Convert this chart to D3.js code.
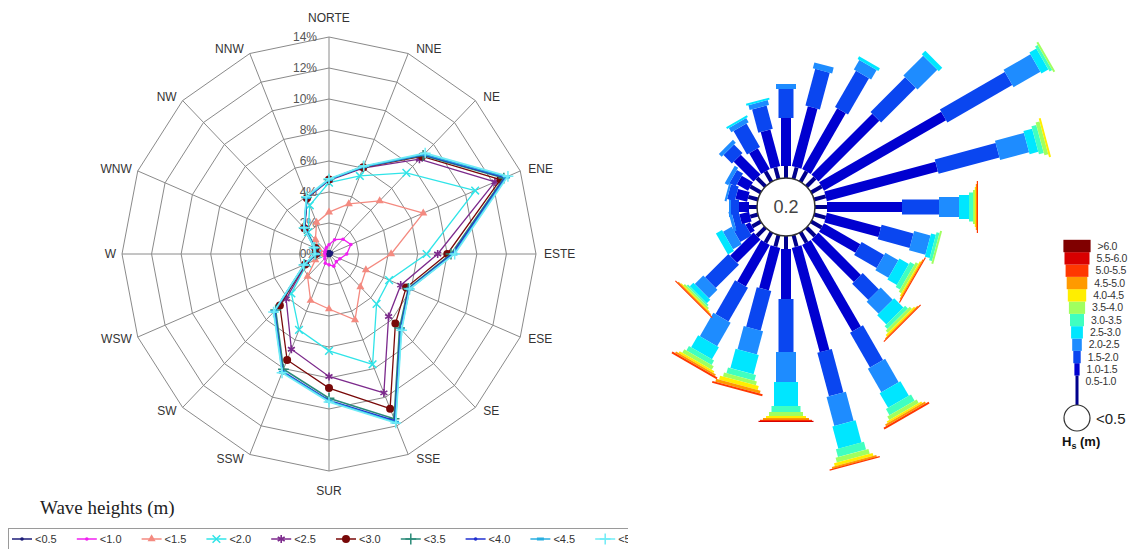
<!DOCTYPE html>
<html><head><meta charset="utf-8">
<script src="https://cdn.jsdelivr.net/npm/d3@7"></script>
<style>body{margin:0;background:#fff}svg{display:block}text{font-family:"Liberation Sans",Arial,sans-serif}</style>
</head><body><svg id="c" width="1138" height="549"></svg>
<script>
// ---------------- data ----------------
const directions = ["NORTE","NNE","NE","ENE","ESTE","ESE","SE","SSE","SUR","SSW","SW","WSW","W","WNW","NW","NNW"];
const radarTicks = [0,2,4,6,8,10,12,14];
const seriesNames = ["<0.5","<1.0","<1.5","<2.0","<2.5","<3.0","<3.5","<4.0","<4.5","<5.0"];
const s05 = [0.15,0.15,0.15,0.2,0.15,0.1,0.1,0.1,0.1,0.1,0.1,0.1,0.1,0.1,0.1,0.15];
const s10 = [0.6,1.0,1.35,1.6,1.2,0.8,0.7,0.85,0.7,0.65,0.4,0.3,0.3,0.3,0.35,0.45];
const s15 = [2.7,3.5,4.85,6.9,4.2,2.7,3.0,4.6,3.55,3.25,2.05,1.0,0.6,0.7,1.3,2.2];
const s20 = [4.6,5.45,7.4,10.7,6.6,4.4,4.55,7.7,6.25,5.3,3.6,1.6,0.8,1.0,2.0,3.4];
const s25 = [4.75,6.0,8.65,12.15,7.35,5.25,5.7,9.7,7.9,6.65,4.1,1.7,0.85,1.0,2.3,3.9];
const s30 = [4.8,6.05,8.9,12.55,8.0,5.65,6.35,10.8,8.65,7.4,4.7,1.75,0.9,1.0,2.35,3.9];
const s35 = [4.8,6.1,9.0,12.8,8.25,5.8,6.75,11.5,9.3,8.05,5.1,1.8,0.9,1.05,2.35,3.95];
const s40 = [4.8,6.1,9.05,12.9,8.35,5.85,6.85,11.65,9.45,8.2,5.2,1.8,0.9,1.05,2.35,3.95];
const s45 = [4.8,6.1,9.1,13.0,8.45,5.9,6.9,11.75,9.5,8.25,5.25,1.8,0.9,1.05,2.4,3.95];
const s50 = [4.85,6.15,9.2,13.1,8.5,5.9,6.95,11.8,9.55,8.3,5.3,1.85,0.95,1.1,2.4,4.0];
const seriesValues = [s05,s10,s15,s20,s25,s30,s35,s40,s45,s50];

// wave rose: 24 directions (deg from north), cumulative frequency (%) at the end of each Hs class
const roseAngles = [0,15,30,45,60,75,90,105,120,135,150,165,180,195,210,225,240,255,270,285,300,315,330,345];
const roseCum = [
  [0.6,3.0,4.45,4.7],
  [0.6,3.7,5.6,5.9],
  [0.6,4.1,6.2,6.75,6.9],
  [0.6,4.9,7.35,8.75,9.0],
  [0.6,7.65,11.4,12.95,13.35,13.5,13.6],
  [0.6,6.35,9.5,11.0,11.45,11.7,11.9,12.0],
  [0.6,4.35,6.2,7.2,7.7,7.9,8.0,8.05,8.1,8.15],
  [0.6,3.4,5.05,5.9,6.15,6.3,6.4],
  [0.6,2.7,4.0,4.75,5.3,5.55,5.7,5.78,5.83,5.88],
  [0.6,3.6,4.75,5.6,6.25,6.45,6.6,6.7,6.75,6.8],
  [0.6,5.6,7.6,8.95,9.8,10.15,10.35,10.45,10.55,10.65],
  [0.6,6.0,8.25,9.75,10.9,11.3,11.55,11.7,11.8,11.85],
  [0.65,3.15,5.8,7.3,8.5,8.8,9.0,9.1,9.2,9.25,9.3],
  [0.6,2.8,4.85,6.05,7.05,7.35,7.55,7.75,7.9,8.0],
  [0.6,3.0,4.95,6.3,7.0,7.25,7.45,7.55,7.65,7.75],
  [0.6,2.25,3.9,4.5,4.75,4.85,4.95,5.0,5.05,5.1],
  [0.5,0.75,1.4,1.9,2.25],
  [0.4,0.9,1.25,1.4],
  [0.4,0.9,1.3,1.4],
  [0.5,1.1,1.5,1.6],
  [0.6,1.25,1.6,1.8],
  [0.6,2.0,2.6,2.8],
  [0.6,1.8,3.15,3.4,3.5],
  [0.6,2.5,3.7,3.95,4.05]
];
const hsClasses = ["0.5-1.0","1.0-1.5","1.5-2.0","2.0-2.5","2.5-3.0","3.0-3.5","3.5-4.0","4.0-4.5","4.5-5.0","5.0-5.5","5.5-6.0",">6.0"];
const calmLabel = "<0.5";
const calmValue = "0.2";

// ---------------- styles ----------------
const seriesColors = ["#1c1c78","#f020f0","#f48a80","#30e4e8","#7c2a8c","#780808","#2a8a78","#2030d0","#28aee0","#70ecf6"];
const seriesMarkers = ["dot","dot","tri","times","star","circle","plus","dot","dash","plus"];
const classColors = ["#00008c","#0000d0","#0a46f0","#1e8cff","#00e6ff","#40ffc0","#a0ff60","#ffee00","#ff9a00","#ff3800","#d80000","#800000"];
const classWidths = [4,10,15,20,24,29,34,40,46,52,55,56];

const svg = d3.select("#c");
svg.append("rect").attr("width",1138).attr("height",549).attr("fill","#fff");

// ---------------- radar ----------------
const cx = 329, cy = 254;
const rX = d3.scaleLinear().domain([0,14]).range([0,207]);
const rY = d3.scaleLinear().domain([0,14]).range([0,217]);
const angle = d3.scaleLinear().domain([0,directions.length]).range([0,2*Math.PI]);
const pt = (v,i) => [cx + rX(v)*Math.sin(angle(i)), cy - rY(v)*Math.cos(angle(i))];
const closed = d3.line().curve(d3.curveLinearClosed);

const grid = svg.append("g").attr("stroke","#8a8a8a").attr("fill","none").attr("stroke-width",1);
radarTicks.slice(1).forEach(t => {
  grid.append("path").attr("d", closed(directions.map((d,i)=>pt(t,i))));
});
directions.forEach((d,i)=>{
  const [x,y] = pt(14,i);
  grid.append("line").attr("x1",cx).attr("y1",cy).attr("x2",x).attr("y2",y);
});
radarTicks.forEach(t=>{
  svg.append("text").attr("x",cx-12).attr("y",cy-rY(t)).attr("dy","0.35em")
    .attr("text-anchor","end").attr("font-size",12).attr("fill","#555").text(t+"%");
});
directions.forEach((d,i)=>{
  const a = angle(i), s = Math.sin(a), c = Math.cos(a);
  const [vx,vy] = pt(14,i);
  let x = vx, y = vy, anchor = "middle";
  if (s > 0.01) { anchor = "start"; x = vx + 8; y = vy - 5*c; }
  else if (s < -0.01) { anchor = "end"; x = vx - 6; y = vy - 5*c; }
  else { y = c > 0 ? vy - 19 : vy + 20; }
  svg.append("text").attr("x",x).attr("y",y).attr("dy","0.35em").attr("text-anchor",anchor)
    .attr("font-size",12).attr("fill","#333").text(d);
});

function marker(g, type, x, y, color){
  if(type==="dot"){ g.append("circle").attr("cx",x).attr("cy",y).attr("r",1.8).attr("fill",color); }
  else if(type==="circle"){ g.append("circle").attr("cx",x).attr("cy",y).attr("r",4).attr("fill",color); }
  else if(type==="tri"){ g.append("path").attr("transform",`translate(${x},${y})`).attr("d",d3.symbol(d3.symbolTriangle,28)()).attr("fill",color); }
  else if(type==="times"){ g.append("path").attr("transform",`translate(${x},${y})`).attr("d",d3.symbol(d3.symbolTimes,40)()).attr("fill","none").attr("stroke",color).attr("stroke-width",1.5); }
  else if(type==="star"){ g.append("path").attr("transform",`translate(${x},${y})`).attr("d",d3.symbol(d3.symbolAsterisk,45)()).attr("fill","none").attr("stroke",color).attr("stroke-width",1.6); }
  else if(type==="plus"){ g.append("path").attr("transform",`translate(${x},${y})`).attr("d",d3.symbol(d3.symbolPlus,40)()).attr("fill","none").attr("stroke",color).attr("stroke-width",1.5); }
  else if(type==="dash"){ g.append("path").attr("transform",`translate(${x},${y})`).attr("d","M-3.5,0H3.5").attr("stroke",color).attr("stroke-width",3); }
}

const series = svg.append("g");
seriesValues.forEach((vals,si)=>{
  const g = series.append("g");
  const pts = vals.map((v,i)=>pt(v,i));
  g.append("path").attr("d",closed(pts)).attr("fill","none").attr("stroke",seriesColors[si]).attr("stroke-width", si>=6?1.6:1.3);
  pts.forEach(p=>marker(g, seriesMarkers[si], p[0], p[1], seriesColors[si]));
});

svg.append("text").attr("x",40).attr("y",514).attr("font-size",19)
  .style("font-family","'Liberation Serif','DejaVu Serif',serif").attr("fill","#222").text("Wave heights (m)");

// legend
svg.append("clipPath").attr("id","lgclip").append("rect").attr("x",0).attr("y",520).attr("width",628).attr("height",40);
const lg = svg.append("g").attr("clip-path","url(#lgclip)");
lg.append("rect").attr("x",8.5).attr("y",528.5).attr("width",622).attr("height",30).attr("fill","none").attr("stroke","#9a9a9a");
seriesNames.forEach((n,i)=>{
  const x0 = 12 + i*64.8, y0 = 539;
  lg.append("line").attr("x1",x0).attr("x2",x0+20).attr("y1",y0).attr("y2",y0).attr("stroke",seriesColors[i]).attr("stroke-width",1.5);
  marker(lg, seriesMarkers[i], x0+10, y0, seriesColors[i]);
  lg.append("text").attr("x",x0+23).attr("y",y0).attr("dy","0.35em").attr("font-size",11).attr("fill","#333").text(n);
});

// ---------------- wave rose ----------------
const rc = [786,207];
const rR = d3.scaleLinear().domain([0,14]).range([29,309]);
const rose = svg.append("g").attr("transform",`translate(${rc[0]},${rc[1]})`);
roseAngles.forEach((a,di)=>{
  const g = rose.append("g").attr("transform",`rotate(${a})`);
  const cum = roseCum[di];
  cum.forEach((v,k)=>{
    const r0 = k===0 ? rR(0) : rR(cum[k-1]);
    const r1 = rR(v);
    g.append("rect").attr("x",-classWidths[k]/2).attr("y",-r1).attr("width",classWidths[k])
      .attr("height",Math.max(r1-r0,1.2)).attr("fill",classColors[k]);
  });
});
rose.append("circle").attr("r",29).attr("fill","#fff").attr("stroke","#333").attr("stroke-width",1.5);
rose.append("text").attr("text-anchor","middle").attr("dy","0.35em").attr("font-size",18).attr("fill","#444").text(calmValue);

// colour legend
const lgx = 1077;
const rowY = d3.scaleLinear().domain([hsClasses.length-1, 0]).range([246, 381.7]);
hsClasses.forEach((c,k)=>{
  const y = rowY(k);
  const w = 3 + k*2.2;
  const top = y - 6.2, bottom = k===0 ? 405 : y + 6.2;
  svg.append("rect").attr("x",lgx-w/2).attr("y",top).attr("width",w).attr("height",bottom-top).attr("fill",classColors[k]);
});
hsClasses.forEach((c,k)=>{
  const y = rowY(k);
  const w = 3 + k*2.2;
  svg.append("text").attr("x",lgx+w/2+7).attr("y",y).attr("dy","0.36em").attr("font-size",10.5)
    .attr("letter-spacing",-0.3).attr("fill","#333").text(c);
});
svg.append("circle").attr("cx",lgx).attr("cy",418).attr("r",13).attr("fill","#fff").attr("stroke","#333").attr("stroke-width",1.2);
svg.append("text").attr("x",1096).attr("y",418).attr("dy","0.38em").attr("font-size",15).attr("fill","#222").text(calmLabel);
const hs = svg.append("text").attr("x",1062).attr("y",446).attr("font-size",13).attr("font-weight","bold").attr("fill","#111");
hs.append("tspan").text("H");
hs.append("tspan").attr("font-size",9).attr("dy",3).text("s");
hs.append("tspan").attr("dy",-3).text(" (m)");
</script></body></html>
